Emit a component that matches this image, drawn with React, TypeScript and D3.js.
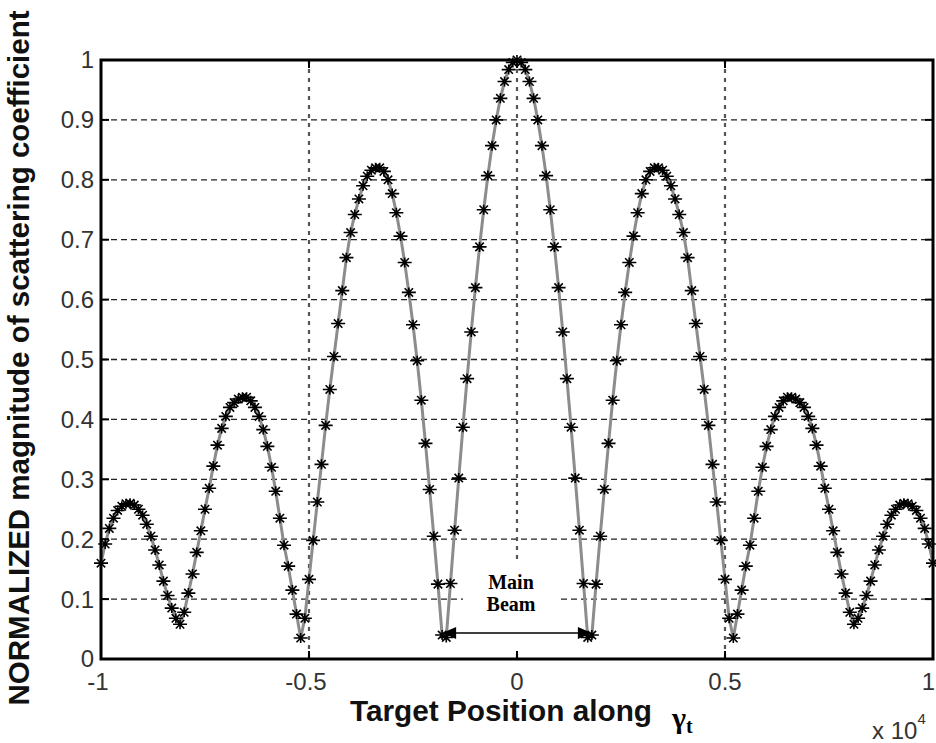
import React from "react";
import * as d3 from "d3";

// Sampling grid of the target position (x 10^4): -1 .. 1, step 0.01
const X_START = -1;
const X_STEP = 0.01;

// Normalized magnitude, one value per sample
const Y_VALUES = [
  0.160, 0.192, 0.218, 0.235, 0.248, 0.255, 0.259, 0.260, 0.257, 0.250,
  0.240, 0.225, 0.205, 0.182, 0.157, 0.130, 0.106, 0.085, 0.068, 0.058,
  0.078, 0.110, 0.142, 0.178, 0.214, 0.250, 0.285, 0.322, 0.357, 0.385,
  0.405, 0.420, 0.428, 0.434, 0.437, 0.437, 0.431, 0.420, 0.405, 0.383,
  0.355, 0.320, 0.280, 0.235, 0.190, 0.155, 0.115, 0.075, 0.035, 0.068,
  0.133, 0.198, 0.262, 0.325, 0.390, 0.450, 0.505, 0.560, 0.615, 0.670,
  0.712, 0.742, 0.768, 0.790, 0.806, 0.816, 0.820, 0.820, 0.814, 0.800,
  0.777, 0.745, 0.706, 0.662, 0.612, 0.558, 0.498, 0.432, 0.360, 0.283,
  0.205, 0.125, 0.040, 0.036, 0.126, 0.215, 0.302, 0.387, 0.468, 0.546,
  0.620, 0.688, 0.750, 0.807, 0.857, 0.900, 0.936, 0.964, 0.984, 0.996,
  1.000,
  0.996, 0.984, 0.964, 0.936, 0.900, 0.857, 0.807, 0.750, 0.688, 0.620,
  0.546, 0.468, 0.387, 0.302, 0.215, 0.126, 0.036, 0.040, 0.125, 0.205,
  0.283, 0.360, 0.432, 0.498, 0.558, 0.612, 0.662, 0.706, 0.745, 0.777,
  0.800, 0.814, 0.820, 0.820, 0.816, 0.806, 0.790, 0.768, 0.742, 0.712,
  0.670, 0.615, 0.560, 0.505, 0.450, 0.390, 0.325, 0.262, 0.198, 0.133,
  0.068, 0.035, 0.075, 0.115, 0.155, 0.190, 0.235, 0.280, 0.320, 0.355,
  0.383, 0.405, 0.420, 0.431, 0.437, 0.437, 0.434, 0.428, 0.420, 0.405,
  0.385, 0.357, 0.322, 0.285, 0.250, 0.214, 0.178, 0.142, 0.110, 0.078,
  0.058, 0.068, 0.085, 0.106, 0.130, 0.157, 0.182, 0.205, 0.225, 0.240,
  0.250, 0.257, 0.260, 0.259, 0.255, 0.248, 0.235, 0.218, 0.192, 0.160,
];

const X_TICKS = [-1, -0.5, 0, 0.5, 1];
const X_TICK_LABELS = ["-1", "-0.5", "0", "0.5", "1"];
const Y_TICKS = [0, 0.1, 0.2, 0.3, 0.4, 0.5, 0.6, 0.7, 0.8, 0.9, 1];
const Y_TICK_LABELS = ["0", "0.1", "0.2", "0.3", "0.4", "0.5", "0.6", "0.7", "0.8", "0.9", "1"];
const X_GRID = [-0.5, 0, 0.5];
const Y_GRID = [0.1, 0.2, 0.3, 0.4, 0.5, 0.6, 0.7, 0.8, 0.9];
const BEAM_EDGES = [-0.18, 0.18];

const W = 936;
const H = 743;
const L = 101, R = 933, T = 60, B = 659;

export default function App() {
  const x = d3.scaleLinear().domain([-1, 1]).range([L, R]);
  const y = d3.scaleLinear().domain([0, 1]).range([B, T]);
  const pts: [number, number][] = Y_VALUES.map((v, i) => [X_START + i * X_STEP, v]);
  const line = d3.line<[number, number]>().x((d) => x(d[0])).y((d) => y(d[1]));
  const star = "M-7,0H7M0,-5V5M-4.2,-4.2L4.2,4.2M-4.2,4.2L4.2,-4.2";
  const tickFont = "'Liberation Sans', Arial, sans-serif";
  const serif = "'Liberation Serif', 'Times New Roman', serif";
  const ax0 = x(BEAM_EDGES[0]);
  const ax1 = x(BEAM_EDGES[1]);
  const ay = 633;

  return (
    <svg width={W} height={H} style={{ position: "absolute", left: 0, top: 0, background: "#fff" }}>
      <rect x={0} y={0} width={W} height={H} fill="#fff" />
      {/* horizontal grid */}
      {Y_GRID.map((v) => (
        <line key={"hg" + v} x1={L} x2={R} y1={y(v)} y2={y(v)} stroke="#222" strokeWidth={1.3} strokeDasharray="6,4" />
      ))}
      {/* vertical grid */}
      {X_GRID.map((v) => (
        <line key={"vg" + v} x1={x(v)} x2={x(v)} y1={T} y2={B} stroke="#555" strokeWidth={2.2} strokeDasharray="4,5" />
      ))}
      {/* annotation box hides grid */}
      <rect x={463} y={560} width={97} height={90} fill="#fff" />
      {/* curve */}
      <path d={line(pts) || ""} fill="none" stroke="#8c8c8c" strokeWidth={3} />
      {pts.map((p, i) => (
        <path key={"m" + i} d={star} transform={`translate(${x(p[0])},${y(p[1])})`} stroke="#000" strokeWidth={1.6} fill="none" />
      ))}
      {/* ticks */}
      {Y_TICKS.map((v) => (
        <g key={"yt" + v}>
          <line x1={L} x2={L + 8} y1={y(v)} y2={y(v)} stroke="#000" strokeWidth={2} />
          <line x1={R} x2={R - 8} y1={y(v)} y2={y(v)} stroke="#000" strokeWidth={2} />
        </g>
      ))}
      {X_TICKS.map((v) => (
        <g key={"xt" + v}>
          <line x1={x(v)} x2={x(v)} y1={B} y2={B - 8} stroke="#000" strokeWidth={2} />
          <line x1={x(v)} x2={x(v)} y1={T} y2={T + 8} stroke="#000" strokeWidth={2} />
        </g>
      ))}
      {/* frame */}
      <rect x={L} y={T} width={R - L} height={B - T} fill="none" stroke="#000" strokeWidth={3} />
      {/* tick labels */}
      {Y_TICKS.map((v, i) => (
        <text key={"yl" + v} x={94} y={y(v)} dy="0.35em" textAnchor="end" fontFamily={tickFont} fontSize={24} fill="#333">
          {Y_TICK_LABELS[i]}
        </text>
      ))}
      {X_TICKS.map((v, i) => (
        <text
          key={"xl" + v}
          x={v === 1 ? W - 1 : x(v) - (v < 0 ? 3 : 0)}
          y={690}
          textAnchor={v === 1 ? "end" : "middle"}
          fontFamily={tickFont}
          fontSize={24}
          fill="#333"
        >
          {X_TICK_LABELS[i]}
        </text>
      ))}
      {/* annotation */}
      <text x={511} y={589} textAnchor="middle" fontFamily={serif} fontWeight="bold" fontSize={20} fill="#000">Main</text>
      <text x={511} y={611} textAnchor="middle" fontFamily={serif} fontWeight="bold" fontSize={20} fill="#000">Beam</text>
      <line x1={ax0 + 12} x2={ax1 - 12} y1={ay} y2={ay} stroke="#000" strokeWidth={1.5} />
      <path d={`M${ax0},${ay}L${ax0 + 14},${ay - 6}L${ax0 + 14},${ay + 6}Z`} fill="#000" />
      <path d={`M${ax1},${ay}L${ax1 - 14},${ay - 6}L${ax1 - 14},${ay + 6}Z`} fill="#000" />
      {/* axis labels */}
      <text
        transform="translate(29,358) rotate(-90)"
        textAnchor="middle"
        fontFamily={tickFont}
        fontWeight="bold"
        fontSize={29}
        fill="#111"
        textLength={695}
        lengthAdjust="spacingAndGlyphs"
      >
        NORMALIZED magnitude of scattering coefficient
      </text>
      <text x={350} y={721} fontFamily={tickFont} fontWeight="bold" fontSize={29} fill="#111" textLength={302} lengthAdjust="spacingAndGlyphs">
        Target Position along
      </text>
      <text x={672} y={728} fontFamily={serif} fontWeight="bold" fontSize={30} fill="#000">
        γ<tspan fontSize={20} dy={5}>t</tspan>
      </text>
      <text x={872} y={739} fontFamily={tickFont} fontSize={24} fill="#333">
        x 10<tspan fontSize={15} dy={-15}>4</tspan>
      </text>
    </svg>
  );
}
